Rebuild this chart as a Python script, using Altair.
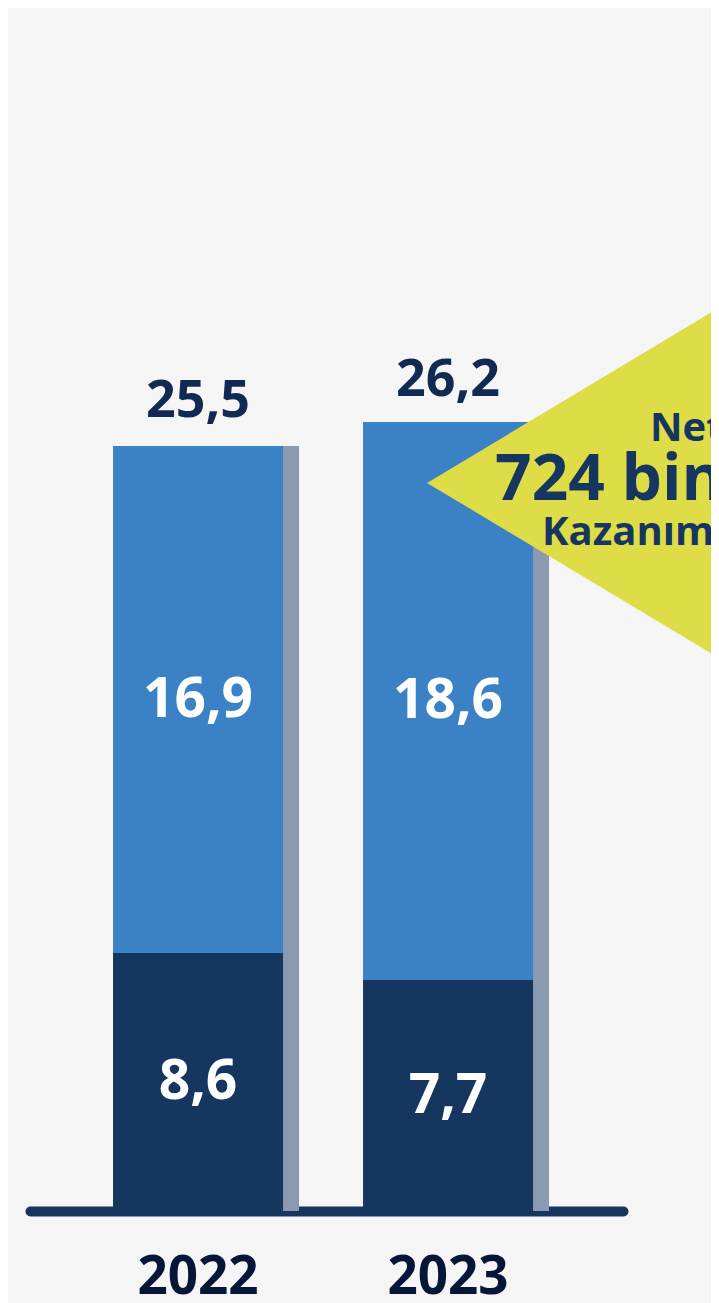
import altair as alt
import pandas as pd

# ---- data ----
years = ["2022", "2023"]
bottom_values = [8.6, 7.7]
top_values = [16.9, 18.6]
totals = [25.5, 26.2]
bottom_labels = ["8,6", "7,7"]
top_labels = ["16,9", "18,6"]
total_labels = ["25,5", "26,2"]
callout_lines = ["Net", "724 bin", "Kazanım"]
callout_year = "2023"
callout_value = 24.27

NAVY = "#15365f"
BLUE = "#3a82c5"
SHADOW = "#8a9ab0"
YELLOW = "#dfdd47"
TEXT_DARK = "#102a54"
YEAR_COLOR = "#061638"
FONT = "Open Sans"

segments = pd.DataFrame({
    "year": years * 2,
    "segment": ["alt"] * 2 + ["ust"] * 2,
    "value": bottom_values + top_values,
    "order": [0, 0, 1, 1],
})
seg_labels = pd.DataFrame({
    "year": years * 2,
    "mid": [b / 2 for b in bottom_values]
    + [b + t / 2 for b, t in zip(bottom_values, top_values)],
    "label": bottom_labels + top_labels,
})
totals_df = pd.DataFrame({"year": years, "total": totals, "label": total_labels})
callout_df = pd.DataFrame({"year": [callout_year], "value": [callout_value]})

y_scale = alt.Scale(domain=[0, 40.1], nice=False, zero=True)

x_enc = alt.X(
    "year:N",
    sort=years,
    scale=alt.Scale(paddingInner=0.32, paddingOuter=0.346, align=0.48),
    axis=alt.Axis(
        title=None,
        labelAngle=0,
        ticks=False,
        tickSize=0,
        domain=True,
        domainColor=NAVY,
        domainWidth=10,
        domainCap="round",
        labelFont=FONT,
        labelFontSize=53,
        labelFontWeight="bold",
        labelColor=YEAR_COLOR,
        labelBaseline="alphabetic",
        labelPadding=82,
        grid=False,
    ),
)

shadow = alt.Chart(totals_df).mark_bar(color=SHADOW, xOffset=16).encode(
    x=x_enc,
    y=alt.Y("total:Q", scale=y_scale, axis=None),
)

bars = alt.Chart(segments).mark_bar().encode(
    x=x_enc,
    y=alt.Y("value:Q", stack="zero", scale=y_scale, axis=None),
    color=alt.Color(
        "segment:N",
        scale=alt.Scale(domain=["alt", "ust"], range=[NAVY, BLUE]),
        legend=None,
    ),
    order=alt.Order("order:Q"),
)

seg_text = alt.Chart(seg_labels).mark_text(
    font=FONT, fontSize=55, fontWeight="bold", color="white", baseline="middle"
).encode(
    x=x_enc,
    y=alt.Y("mid:Q", scale=y_scale, axis=None),
    text="label:N",
)

total_text = alt.Chart(totals_df).mark_text(
    font=FONT, fontSize=52, fontWeight="bold", color=TEXT_DARK,
    baseline="alphabetic", dy=-29,
).encode(
    x=x_enc,
    y=alt.Y("total:Q", scale=y_scale, axis=None),
    text="label:N",
)

triangle = alt.Chart(callout_df).mark_point(
    shape="M-1,0L0.667,-1L0.667,1Z",
    size=250000,
    filled=True,
    color=YELLOW,
    opacity=1,
    strokeWidth=0,
    xOffset=229,
).encode(
    x=x_enc,
    y=alt.Y("value:Q", scale=y_scale, axis=None),
)

line_styles = [
    dict(fontSize=40, dx=202, dy=-42),
    dict(fontSize=64, dx=47, dy=17),
    dict(fontSize=40, dx=94, dy=62),
]
callout_texts = []
for line, st in zip(callout_lines, line_styles):
    d = pd.DataFrame({"year": [callout_year], "value": [callout_value], "text": [line]})
    callout_texts.append(
        alt.Chart(d).mark_text(
            font=FONT, fontWeight="bold", color=NAVY, align="left",
            baseline="alphabetic", **st,
        ).encode(
            x=x_enc,
            y=alt.Y("value:Q", scale=y_scale, axis=None),
            text="text:N",
        )
    )

chart = alt.layer(shadow, bars, seg_text, total_text, triangle, *callout_texts).properties(
    width=593,
    height=1203,
    padding={"left": 22, "top": 0, "right": 88, "bottom": 92},
    autosize=alt.AutoSizeParams(type="none"),
    background="#f5f5f5",
).configure_view(stroke=None)

chart.save("out.html", embed_options={"renderer": "svg", "actions": False})
